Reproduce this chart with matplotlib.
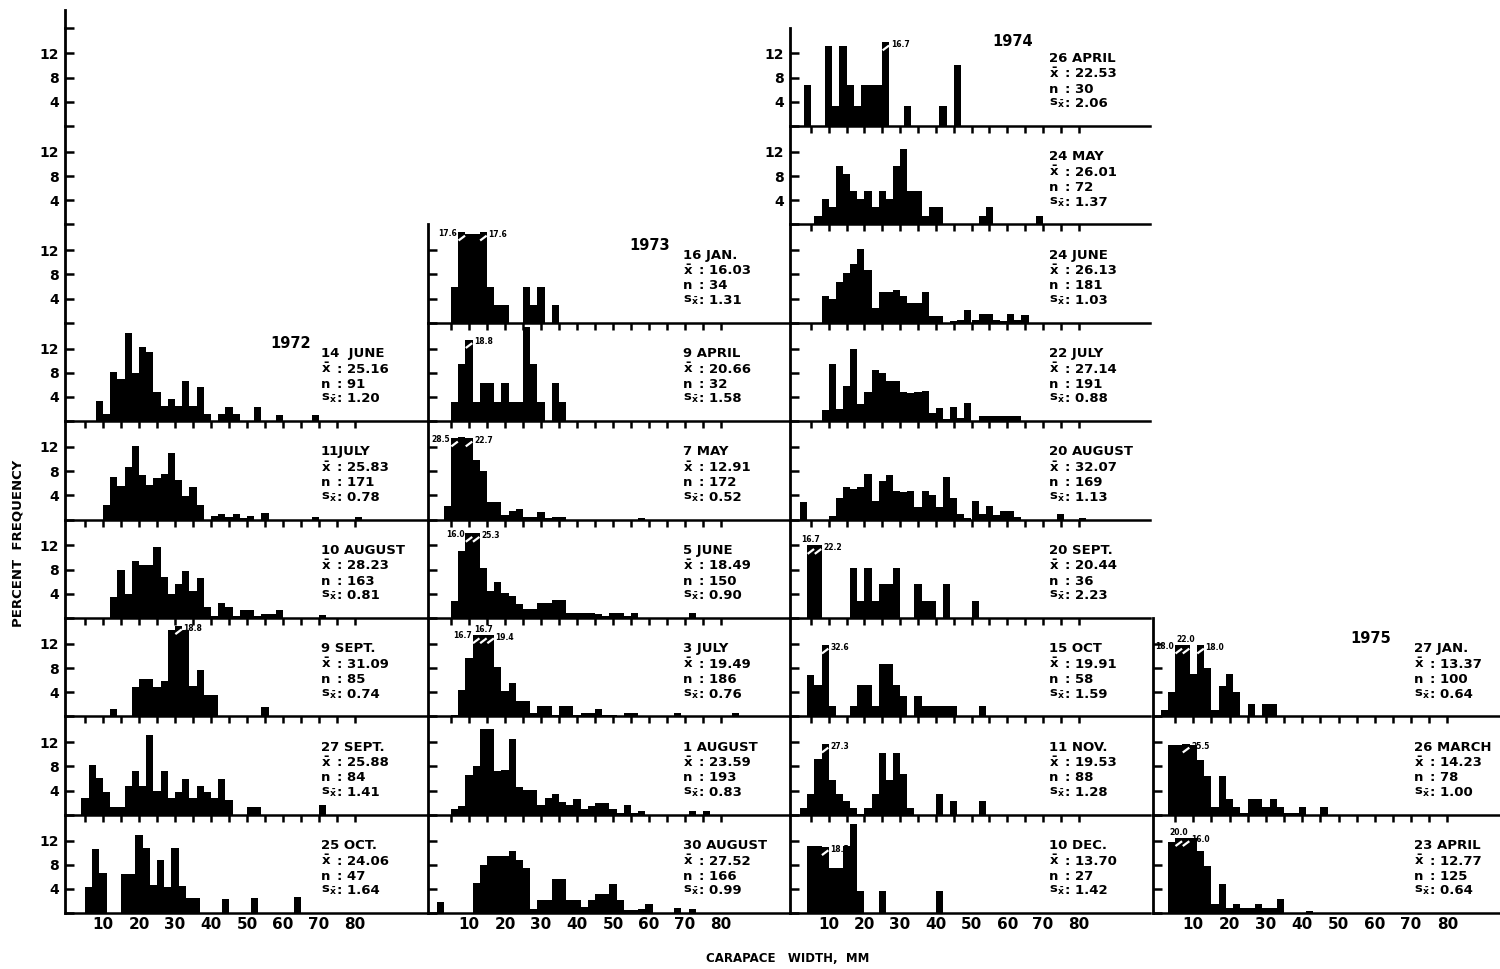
import matplotlib.pyplot as plt

plt.rcParams['font.family'] = ['DejaVu Sans']
plt.rcParams['font.weight'] = 'bold'
plt.rcParams['mathtext.fontset'] = 'dejavusans'

BIN_MM = 2.0          # width of one size class, mm
BREAK_OVER = 15.8     # bars above this are drawn broken

# ---- 1972, first column, rows 4-9
rows_1972 = [4, 5, 6, 7, 8, 9]
dates_1972 = ["14  JUNE", "11JULY", "10 AUGUST", "9 SEPT.", "27 SEPT.", "25 OCT."]
mean_1972 = ["25.16", "25.83", "28.23", "31.09", "25.88", "24.06"]
n_1972 = ["91", "171", "163", "85", "84", "47"]
se_1972 = ["1.20", "0.78", "0.81", "0.74", "1.41", "1.64"]
start_1972 = [8, 10, 12, 12, 4, 5]
cap_1972 = [15.0, 15.0, 15.0, 15.0, 15.0, 15.0]
freq_1972 = [
    [3.3, 1.2, 8.1, 6.9, 14.5, 8.0, 12.3, 11.5, 4.8, 2.5, 3.6, 2.5, 6.7, 2.5, 5.6, 1.2,
     0, 1.2, 2.3, 1.2, 0, 0, 2.3, 0, 0, 1.1, 0, 0, 0, 0, 1.1],
    [2.4, 7.1, 5.5, 8.7, 12.2, 7.4, 5.8, 6.9, 7.6, 11.0, 6.5, 3.9, 5.4, 2.4, 0, 0.6,
     0.9, 0.5, 0.9, 0.3, 0.6, 0, 1.1, 0, 0, 0, 0, 0, 0, 0.5, 0, 0, 0, 0, 0, 0.5],
    [3.4, 8.0, 4.0, 9.4, 8.7, 8.7, 11.7, 6.8, 3.9, 5.7, 7.7, 4.4, 6.6, 1.8, 0.4, 2.5,
     1.8, 0.3, 1.4, 1.4, 0.3, 0.6, 0.6, 1.3, 0, 0, 0, 0, 0, 0.5],
    [1.2, 0, 0, 4.8, 6.2, 6.2, 4.8, 5.9, 14.3, 18.8, 14.3, 5.0, 7.7, 3.6, 3.6,
     0, 0, 0, 0, 0, 0, 1.6],
    [2.7, 8.3, 6.1, 3.7, 1.3, 1.3, 4.8, 7.2, 4.8, 13.2, 3.9, 7.2, 2.8, 3.7, 6.0, 2.7,
     4.8, 3.7, 2.7, 6.0, 2.5, 0, 0, 1.3, 1.3, 0, 0, 0, 0, 0, 0, 0, 0, 1.7],
    [4.3, 10.6, 6.6, 0, 0, 6.5, 6.5, 12.9, 10.8, 4.7, 8.8, 4.4, 10.8, 4.5, 2.5, 2.5,
     0, 0, 0, 2.4, 0, 0, 0, 2.5, 0, 0, 0, 0, 0, 2.6],
]

# ---- 1973, second column, rows 3-9
rows_1973 = [3, 4, 5, 6, 7, 8, 9]
dates_1973 = ["16 JAN.", "9 APRIL", "7 MAY", "5 JUNE", "3 JULY", "1 AUGUST", "30 AUGUST"]
mean_1973 = ["16.03", "20.66", "12.91", "18.49", "19.49", "23.59", "27.52"]
n_1973 = ["34", "32", "172", "150", "186", "193", "166"]
se_1973 = ["1.31", "1.58", "0.52", "0.90", "0.76", "0.83", "0.99"]
start_1973 = [5, 5, 3, 5, 5, 5, 1]
cap_1973 = [15.0, 13.5, 13.5, 14.0, 13.5, 15.0, 15.0]
freq_1973 = [
    [5.9, 17.6, 14.7, 14.7, 17.6, 5.9, 2.9, 2.9, 0, 0, 5.9, 2.9, 5.9, 0, 2.9],
    [3.1, 9.4, 18.8, 3.1, 6.3, 6.3, 3.1, 6.3, 3.1, 3.1, 15.6, 9.4, 3.1, 0, 6.3, 3.1],
    [2.2, 28.5, 13.6, 22.7, 9.8, 8.1, 2.9, 2.9, 0.8, 1.4, 1.7, 0.5, 0.5, 1.2, 0.3, 0.5,
     0.5, 0, 0, 0, 0, 0, 0, 0, 0, 0, 0, 0.3],
    [2.8, 11.1, 16.0, 25.3, 8.2, 4.4, 6.0, 4.1, 3.6, 2.3, 1.5, 1.5, 2.5, 2.5, 3.0, 3.0,
     0.9, 0.9, 0.9, 0.9, 0.6, 0.3, 0.8, 0.8, 0.3, 0.9, 0, 0, 0, 0, 0, 0, 0, 0.8],
    [0.3, 4.3, 9.7, 16.7, 16.7, 19.4, 8.2, 4.2, 5.6, 2.5, 2.5, 0.6, 1.7, 1.7, 0.3, 1.7,
     1.7, 0.3, 0.5, 0.5, 1.3, 0.3, 0.3, 0, 0.5, 0.5, 0, 0, 0, 0, 0, 0.5, 0, 0, 0, 0,
     0, 0, 0, 0.5],
    [0.9, 1.5, 6.6, 8.1, 14.2, 14.2, 7.2, 7.4, 12.6, 4.6, 4.1, 4.1, 1.6, 2.8, 3.4, 2.1,
     1.6, 2.6, 0.9, 1.4, 1.9, 1.9, 1.0, 0.3, 1.7, 0.3, 0.6, 0, 0, 0, 0, 0, 0, 0.6, 0, 0.6],
    [1.8, 0, 0, 0, 0, 5.0, 8.0, 9.5, 9.5, 9.5, 10.3, 8.8, 7.4, 0.7, 2.2, 2.2, 5.7, 5.7,
     2.1, 2.1, 1.0, 2.2, 3.1, 3.1, 4.8, 2.2, 0.5, 0.5, 0.7, 1.5, 0, 0, 0, 0.9, 0, 0.7],
]

# ---- 1974, third column, rows 1-9
rows_1974 = [1, 2, 3, 4, 5, 6, 7, 8, 9]
dates_1974 = ["26 APRIL", "24 MAY", "24 JUNE", "22 JULY", "20 AUGUST", "20 SEPT.",
              "15 OCT", "11 NOV.", "10 DEC."]
mean_1974 = ["22.53", "26.01", "26.13", "27.14", "32.07", "20.44", "19.91", "19.53", "13.70"]
n_1974 = ["30", "72", "181", "191", "169", "36", "58", "88", "27"]
se_1974 = ["2.06", "1.37", "1.03", "0.88", "1.13", "2.23", "1.59", "1.28", "1.42"]
start_1974 = [3, 6, 8, 8, 2, 4, 4, 2, 4]
cap_1974 = [13.9, 15.0, 15.0, 15.0, 15.0, 12.0, 11.8, 11.7, 11.0]
freq_1974 = [
    [6.7, 0, 0, 13.3, 3.3, 13.3, 6.7, 3.3, 6.7, 6.7, 6.7, 16.7, 0, 0, 3.3, 0, 0, 0, 0,
     3.3, 0, 10.0],
    [1.4, 4.2, 2.8, 9.7, 8.3, 5.6, 4.2, 5.6, 2.8, 5.6, 4.2, 9.7, 12.5, 5.6, 5.6, 1.4,
     2.8, 2.8, 0, 0, 0, 0, 0, 1.4, 2.8, 0, 0, 0, 0, 0, 0, 1.4],
    [4.5, 3.9, 6.7, 8.2, 9.7, 12.2, 8.7, 2.5, 5.1, 5.1, 5.5, 4.5, 3.3, 3.3, 5.1, 1.1,
     1.1, 0, 0.3, 0.5, 2.1, 0.5, 1.4, 1.4, 0.5, 0.3, 1.5, 0.4, 1.3],
    [1.9, 9.4, 2.0, 5.8, 12.0, 2.8, 4.8, 8.5, 8.0, 6.6, 6.6, 4.8, 4.7, 4.8, 5.0, 1.4,
     2.2, 0.4, 2.4, 0.6, 3.0, 0, 0.9, 0.9, 0.9, 0.9, 0.9, 0.9],
    [2.9, 0, 0, 0, 0.6, 3.6, 5.4, 5.1, 5.4, 7.6, 3.1, 6.4, 7.4, 4.8, 4.5, 4.7, 2.1, 4.7,
     4.0, 2.1, 7.0, 3.6, 1.0, 0.3, 3.0, 0.9, 2.3, 0.7, 1.5, 1.5, 0.4, 0, 0, 0, 0, 0,
     1.0, 0, 0, 0.3],
    [16.7, 22.2, 0, 0, 0, 0, 8.3, 2.8, 8.3, 2.8, 5.6, 5.6, 8.3, 0, 0, 5.6, 2.8, 2.8, 0,
     5.6, 0, 0, 0, 2.8],
    [6.9, 5.2, 32.6, 1.7, 0, 0, 1.7, 5.2, 5.2, 1.7, 8.6, 8.6, 5.2, 3.4, 0, 3.4, 1.7,
     1.7, 1.7, 1.7, 1.7, 0, 0, 0, 1.7],
    [1.2, 3.4, 9.2, 27.3, 5.7, 3.4, 2.3, 1.2, 0.2, 1.2, 3.4, 10.2, 5.7, 10.2, 6.8, 1.2,
     0, 0, 0, 3.4, 0, 2.3, 0, 0, 0, 2.3],
    [11.1, 11.1, 18.5, 7.4, 7.4, 11.1, 14.8, 3.7, 0, 0, 3.7, 0, 0, 0, 0, 0, 0, 0, 3.7],
]

# ---- 1975, fourth column, rows 7-9
rows_1975 = [7, 8, 9]
dates_1975 = ["27 JAN.", "26 MARCH", "23 APRIL"]
mean_1975 = ["13.37", "14.23", "12.77"]
n_1975 = ["100", "78", "125"]
se_1975 = ["0.64", "1.00", "0.64"]
start_1975 = [1, 3, 3]
cap_1975 = [11.8, 11.7, 12.5]
freq_1975 = [
    [1.0, 4.0, 18.0, 22.0, 7.0, 18.0, 8.0, 1.0, 5.0, 7.0, 4.0, 0, 2.0, 0, 2.0, 2.0],
    [11.5, 11.5, 25.5, 11.5, 9.0, 6.4, 1.3, 6.4, 2.6, 1.3, 0.3, 2.6, 2.6, 1.3, 2.6, 1.3,
     0.3, 0.3, 1.3, 0, 0, 1.3],
    [11.8, 20.0, 16.0, 12.4, 10.2, 7.8, 1.6, 4.8, 0.8, 1.6, 0.8, 0.8, 1.6, 0.8, 0.8, 2.4,
     0, 0, 0, 0.4],
]

years = ["1972", "1973", "1974", "1975"]
year_pos = [(62.0, 12.8), (60.3, 12.7), (61.6, 13.9), (59.0, 12.9)]

# ---- page geometry (pixels of the 1500x969 sheet)
W, H = 1500, 969
COL_LEFT = [65, 428, 790, 1153]
COL_RIGHT = [427, 790, 1150, 1500]
COL_ZERO = [67, 433, 793, 1157]
COL_PXMM = [3.6, 3.6, 3.57, 3.63]
TEXT_MM = [70.5, 69.5, 71.8, 70.8]
FIRST_BASE = 126.0
ROW_STEP = 98.4
PX_PER_PCT = 6.05

fig = plt.figure(figsize=(15, 9.69), dpi=100)


def make_axes(col, top, base):
    left, right = COL_LEFT[col], COL_RIGHT[col]
    ax = fig.add_axes([left / W, 1 - base / H, (right - left) / W, (base - top) / H])
    z, s = COL_ZERO[col], COL_PXMM[col]
    ax.set_xlim((left - z) / s, (right - z) / s)
    ax.set_ylim(0, (base - top) / PX_PER_PCT)
    ax.patch.set_alpha(0)
    ax.spines['top'].set_visible(False)
    ax.spines['right'].set_visible(False)
    ax.spines['left'].set_linewidth(2.0)
    ax.spines['bottom'].set_linewidth(1.8)
    return ax


def set_yaxis(ax, labelled):
    ax.set_yticks([0, 4, 8, 12])
    ax.set_yticklabels(['', '4', '8', '12'] if labelled else [])
    ax.tick_params(axis='y', direction='in', length=6.5, width=1.8, pad=4.5,
                   labelsize=10)


def row_base(row):
    return FIRST_BASE + (row - 1) * ROW_STEP


def draw_panel(col, row, date, mean, n, se, start, freq, cap, year=None):
    base = row_base(row)
    ax = make_axes(col, base - ROW_STEP, base)
    set_yaxis(ax, col == 0 or (col == 2 and row <= 2))
    if row == 9:
        ax.set_xticks(list(range(10, 90, 10)))
        ax.tick_params(axis='x', length=0, pad=3, labelsize=11)
    else:
        ax.set_xticks(list(range(5, 85, 5)))
        ax.set_xticklabels([])
        ax.tick_params(axis='x', direction='out', length=5, width=1.8)

    lefts = [start + i * BIN_MM for i in range(len(freq))]
    drawn = [min(v, cap) if v > BREAK_OVER else v for v in freq]
    ax.bar(lefts, drawn, width=BIN_MM, align='edge', color='black', linewidth=0)

    # broken bars: white slash plus the true value
    broken = [i for i, v in enumerate(freq) if v > BREAK_OVER]
    for k, i in enumerate(broken):
        x0 = lefts[i]
        ax.plot([x0 + 0.1, x0 + BIN_MM - 0.1], [cap - 1.4, cap - 0.6],
                color='white', lw=1.6, solid_capstyle='butt')
        label = f"{freq[i]:.1f}"
        left_room = x0 >= 5 and (i == 0 or drawn[i - 1] < cap - 2)
        if len(broken) > 1 and k == 0:
            if left_room:
                ax.text(x0 - 0.3, cap - 0.2, label, fontsize=5.5, ha='right',
                        va='center')
            else:
                ax.text(x0 + BIN_MM / 2, cap + 0.9, label, fontsize=5.5,
                        ha='center', va='center')
        elif k == len(broken) - 1:
            ax.text(x0 + BIN_MM + 0.4, cap - 0.4, label, fontsize=5.5, ha='left',
                    va='center')
        else:
            ax.text(x0 + BIN_MM / 2, cap + 0.9, label, fontsize=5.5, ha='center',
                    va='center')

    tx = TEXT_MM[col]
    ax.text(tx, 11.2, date, fontsize=9.5, va='center')
    ax.text(tx, 8.6, r'$\mathbf{\bar{x}}$', fontsize=9.5, va='center')
    ax.text(tx + 4.5, 8.6, ': ' + mean, fontsize=9.5, va='center')
    ax.text(tx, 6.1, 'n', fontsize=9.5, va='center')
    ax.text(tx + 4.5, 6.1, ': ' + n, fontsize=9.5, va='center')
    ax.text(tx, 3.7, r'$\mathbf{s_{\bar{x}}}$', fontsize=9.5, va='center')
    ax.text(tx + 4.5, 3.7, ': ' + se, fontsize=9.5, va='center')
    if year is not None:
        ax.text(year_pos[col][0], year_pos[col][1], years[col], fontsize=10.5,
                ha='center', va='center')


# empty stretch of the first column's axis above 1972
top_ax = make_axes(0, 10, FIRST_BASE - ROW_STEP)
top_ax.spines['bottom'].set_visible(False)
top_ax.set_xticks([])
top_ax.set_yticks([0])
top_ax.set_yticklabels([])
top_ax.tick_params(axis='y', direction='in', length=6.5, width=1.8)
for row in (1, 2, 3):
    base = row_base(row)
    ax = make_axes(0, base - ROW_STEP, base)
    ax.spines['bottom'].set_visible(False)
    ax.set_xticks([])
    set_yaxis(ax, True)

groups = [
    (rows_1972, dates_1972, mean_1972, n_1972, se_1972, start_1972, freq_1972, cap_1972),
    (rows_1973, dates_1973, mean_1973, n_1973, se_1973, start_1973, freq_1973, cap_1973),
    (rows_1974, dates_1974, mean_1974, n_1974, se_1974, start_1974, freq_1974, cap_1974),
    (rows_1975, dates_1975, mean_1975, n_1975, se_1975, start_1975, freq_1975, cap_1975),
]
for col, (rows, dates, means, ns, ses, starts, freqs, caps) in enumerate(groups):
    for k in range(len(rows)):
        draw_panel(col, rows[k], dates[k], means[k], ns[k], ses[k], starts[k],
                   freqs[k], caps[k], year=years[col] if k == 0 else None)

fig.text(18 / W, 1 - 543 / H, "PERCENT  FREQUENCY", rotation=90, ha='center',
         va='center', fontsize=9.5)
fig.text(788 / W, 1 - 958 / H, "CARAPACE   WIDTH,  MM", ha='center', va='center',
         fontsize=8.5)

fig.savefig("out.png", dpi=100)
